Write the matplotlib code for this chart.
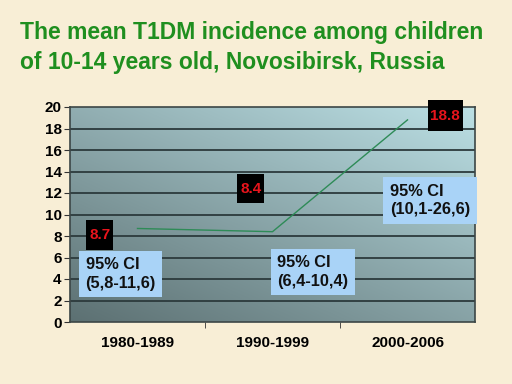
import matplotlib.pyplot as plt
from matplotlib.patches import Rectangle
import numpy as np

# --- data ---
periods = ['1980-1989', '1990-1999', '2000-2006']
incidence = [8.7, 8.4, 18.8]
ci_labels = ['95% CI\n(5,8-11,6)', '95% CI\n(6,4-10,4)', '95% CI\n(10,1-26,6)']
yticks = [0, 2, 4, 6, 8, 10, 12, 14, 16, 18, 20]

plt.rcParams['font.family'] = ['Liberation Sans', 'DejaVu Sans']

fig = plt.figure(figsize=(5.12, 3.84), dpi=100)
fig.patch.set_facecolor('#f8eed6')

ax = fig.add_axes([70/512, 62/384, 405/512, 215/384])
x = np.arange(len(periods))
ax.set_xlim(-0.5, 2.5)
ax.set_ylim(0, 20)

# gradient background: dark bottom-left, light top-right
gx, gy = np.meshgrid(np.linspace(0, 1, 200), np.linspace(0, 1, 200))
t = (gx * 0.45 + gy * 0.55)
c0 = np.array([0x5c, 0x70, 0x72]) / 255
c1 = np.array([0xbc, 0xe0, 0xe5]) / 255
img = c0 + (c1 - c0) * t[..., None]
ax.imshow(img, extent=[-0.5, 2.5, 0, 20], origin='lower', aspect='auto', zorder=0)

for yv in yticks[1:-1]:
    ax.axhline(yv, color='#2c3a3c', lw=1.3, zorder=1)

ax.plot(x, incidence, color='#2e8b57', lw=1, zorder=3)

# value labels (black boxes with red text), centre + box size
val_pos = [(-0.28, 8.1), (0.84, 12.4), (2.28, 19.2)]
val_box = [(0.20, 2.75), (0.20, 2.65), (0.26, 2.85)]
for (px, py), (bw, bh), v in zip(val_pos, val_box, incidence):
    ax.add_patch(Rectangle((px - bw/2, py - bh/2), bw, bh, fc='black', ec='none',
                           zorder=5, clip_on=False))
    ax.text(px, py, f'{v}', color='#e8141c', fontsize=11, fontweight='bold',
            ha='center', va='center', zorder=6, clip_on=False)

ci_pos = [(-0.385, 4.45), (1.035, 4.65), (1.87, 11.3)]
for (px, py), s in zip(ci_pos, ci_labels):
    ax.text(px, py, s, color='#111111', fontsize=11.8, fontweight='bold',
            ha='left', va='center', linespacing=1.28, zorder=5,
            bbox=dict(boxstyle='square,pad=0.4', fc='#a9d3f7', ec='none'))

ax.set_yticks(yticks)
ax.set_yticklabels([str(v) for v in yticks], fontsize=11, fontweight='bold')
ax.set_xticks(x)
ax.set_xticklabels(periods, fontsize=11, fontweight='bold')
ax.tick_params(axis='x', length=0, pad=10)
ax.set_xticks([0.5, 1.5], minor=True)
ax.tick_params(axis='x', which='minor', length=4, color='#333333', direction='out')
ax.tick_params(axis='y', length=4, color='#333333', pad=2)

for side in ['left', 'bottom', 'right', 'top']:
    ax.spines[side].set_color('#3c4646')
    ax.spines[side].set_linewidth(1.2)

fig.text(20/512, 1 - 32/384, 'The mean T1DM incidence among children',
         color='#1f8f1f', fontsize=16.5, fontweight='bold', va='center')
fig.text(20/512, 1 - 62/384, 'of 10-14 years old, Novosibirsk, Russia',
         color='#1f8f1f', fontsize=16.5, fontweight='bold', va='center')

fig.savefig('out.png', dpi=100, facecolor=fig.get_facecolor())
